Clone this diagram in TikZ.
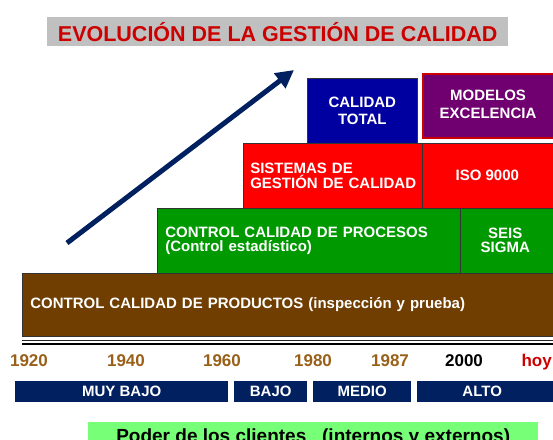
\documentclass[tikz,border=0pt]{standalone}
\usepackage{fontspec}
\setmainfont{Liberation Sans}
\usetikzlibrary{arrows.meta, positioning}

\definecolor{titlegray}{RGB}{192,192,192}
\definecolor{titlered}{RGB}{204,0,0}
\definecolor{totalblue}{RGB}{0,0,160}
\definecolor{excpurple}{RGB}{112,0,112}
\definecolor{sgcred}{RGB}{255,0,0}
\definecolor{procgreen}{RGB}{0,153,0}
\definecolor{prodbrown}{RGB}{112,62,0}
\definecolor{navy}{RGB}{0,32,96}
\definecolor{yearbrown}{RGB}{153,96,26}
\definecolor{palegreen}{RGB}{119,255,119}

\tikzset{
  stage/.style={draw=black!80, line width=0.6pt, anchor=north west, text=white,
    inner xsep=8pt, inner ysep=0pt, align=center,
    font=\fontsize{15}{15}\selectfont\bfseries},
  year/.style={anchor=base, text=yearbrown, font=\fontsize{17}{17}\selectfont\bfseries},
  level/.style={fill=navy, anchor=north west, text=white, minimum height=21pt,
    inner sep=0pt, font=\fontsize{15}{15}\selectfont\bfseries},
}

\begin{document}
\begin{tikzpicture}[x=1pt, y=-1pt]
    \useasboundingbox (0,0) rectangle (553,439);

    % title
    \node[fill=titlegray, anchor=north west, minimum width=461pt, minimum height=29pt,
      inner sep=0pt, text=titlered, font=\fontsize{21.5}{22}\selectfont\bfseries]
      (title) at (47,17) {EVOLUCIÓN DE LA GESTIÓN DE CALIDAD};

    % rising arrow
    \coordinate (arrowstart) at (67,243);
    \coordinate (arrowend) at (294,70);
    \draw[navy, line width=5pt, -{Triangle[length=18pt, width=18pt]}] (arrowstart) -- (arrowend);

    % stages, from top to bottom
    \node[stage, fill=totalblue, minimum width=110pt, minimum height=65pt,
      font=\fontsize{15}{17}\selectfont\bfseries] (total) at (307,78) {CALIDAD\\TOTAL};
    \node[stage, fill=excpurple, draw=titlered, line width=2pt, minimum width=140pt,
      minimum height=64pt, text depth=3pt, font=\fontsize{15}{18}\selectfont\bfseries]
      (modelos) at (422,73) {\hspace*{-10pt}MODELOS\\\hspace*{-10pt}EXCELENCIA};

    \node[stage, fill=sgcred, inner xsep=5pt, text width=169pt, minimum height=65pt, align=left]
      (sistemas) at (243,143) {\hspace*{2pt}SISTEMAS DE\\\hspace*{2pt}GESTIÓN DE CALIDAD};
    \node[stage, fill=sgcred, minimum width=140pt, minimum height=65pt]
      (iso) at (422,143) {\hspace*{-10pt}ISO 9000};

    \node[stage, fill=procgreen, text width=287pt, minimum height=65pt, align=left,
      font=\fontsize{15}{14}\selectfont\bfseries]
      (procesos) at (157,208) {CONTROL CALIDAD DE PROCESOS\\(Control estadístico)};
    \node[stage, fill=procgreen, minimum width=100pt, minimum height=65pt,
      font=\fontsize{15}{14}\selectfont\bfseries]
      (sigma) at (460,208) {\hspace*{-10pt}SEIS\\\hspace*{-10pt}SIGMA};

    \node[stage, fill=prodbrown, text width=524pt, minimum height=63pt, align=left]
      (productos) at (22,273) {CONTROL CALIDAD DE PRODUCTOS (inspección y prueba)};

    % time axis
    \coordinate (axisleft) at (22,340.5);
    \coordinate (axisright) at (556,340.5);
    \draw[black!85, line width=1.2pt] (axisleft) -- (axisright);
    \draw[black, line width=2.6pt] ([yshift=-3.5pt]axisleft) -- ([yshift=-3.5pt]axisright);

    \node[year] (y1920) at (29,366) {1920};
    \node[year] (y1940) at (126,366) {1940};
    \node[year] (y1960) at (222,366) {1960};
    \node[year] (y1980) at (313,366) {1980};
    \node[year] (y1987) at (390,366) {1987};
    \node[year, text=black] (y2000) at (464,366) {2000};
    \node[year, text=titlered, anchor=base west] (yhoy) at (518,366) {hoy};

    % customer power levels
    \node[level, minimum width=213pt] (muybajo) at (15,381) {MUY BAJO};
    \node[level, minimum width=73pt] (bajo) at (234,381) {BAJO};
    \node[level, minimum width=98pt] (medio) at (313,381) {MEDIO};
    \node[level, minimum width=140pt] (alto) at (417,381) {\hspace*{-10pt}ALTO};

    \node[fill=palegreen, anchor=north west, minimum width=450pt, minimum height=30pt,
      inner sep=0pt, font=\fontsize{19}{19}\selectfont\bfseries]
      (poder) at (88,422) {\raisebox{-5pt}{Poder de los clientes \ \ (internos y externos)}};
\end{tikzpicture}
\end{document}
